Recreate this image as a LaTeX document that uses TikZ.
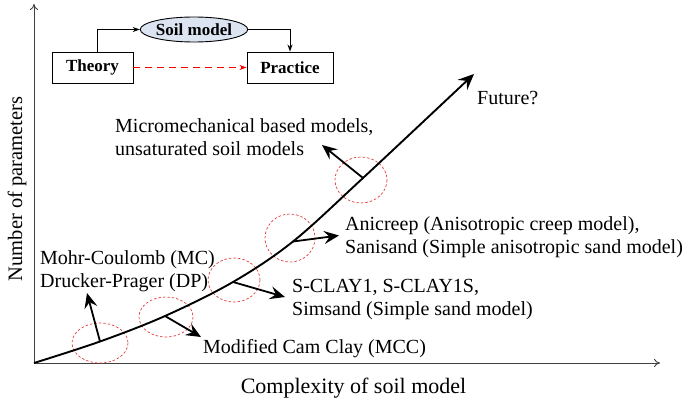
\documentclass[tikz,border=0pt]{standalone}
\usepackage{fontspec}
\setmainfont{Liberation Serif}
\usetikzlibrary{arrows.meta,shapes.geometric}
\definecolor{soilfill}{RGB}{220,228,242}
\definecolor{ringred}{RGB}{228,60,60}
\begin{document}
\begin{tikzpicture}[x=1pt,y=-1pt,
  lbl/.style={anchor=base west,inner sep=0pt,font=\fontsize{20}{23.5}\selectfont},
  boxlbl/.style={draw,line width=0.9pt,font=\bfseries\fontsize{17}{20}\selectfont,inner sep=0pt},
  ring/.style={draw=ringred,line width=0.7pt,dash pattern=on 2.5pt off 2pt},
  bigarr/.style={line width=1.9pt,-{Stealth[length=16pt,width=14pt,inset=6pt]}},
  ptr/.style={line width=1.8pt,-{Stealth[length=15pt,width=13pt,inset=5.5pt]}},
  axis/.style={line width=0.9pt,draw=black!75,-{To[length=6pt,width=8pt]}},
  thin/.style={line width=0.9pt,-{Stealth[length=7pt,width=5pt]}}]
\useasboundingbox (0,0) rectangle (685,401);
% axes
\coordinate (O) at (34,363);
\coordinate (Ytop) at (34,4);
\coordinate (Xend) at (660,363);
\draw[axis] (O) -- (Ytop);
\draw[axis] (O) -- (Xend);
\node[inner sep=0pt,rotate=90,anchor=base,font=\fontsize{20.5}{24}\selectfont] (ylab) at (22,189) {Number of parameters};
\node[inner sep=0pt,anchor=base,font=\fontsize{22}{24}\selectfont] (xlab) at (353.5,393) {Complexity of soil model};
% curve points
\coordinate (p1) at (100,341.5);
\coordinate (p2) at (165,316);
\coordinate (p3) at (233,282);
\coordinate (p4) at (293,241.5);
\coordinate (p5) at (363,178);
\coordinate (pend) at (474,74);
% rings
\draw[ring] (100,343) ellipse [x radius=28,y radius=20];
\draw[ring] (166,317) ellipse [x radius=27,y radius=20];
\draw[ring] (234,280) ellipse [x radius=26,y radius=22];
\draw[ring] (290,238) ellipse [x radius=25,y radius=24];
\draw[ring] (361,180) ellipse [x radius=26,y radius=23];
% main curve
\draw[bigarr] plot[smooth,tension=0.55] coordinates {(O) (p1) (p2) (p3) (p4) (p5) (pend)};
% pointer arrows
\coordinate (a1) at (87,293);
\coordinate (a2) at (201,337);
\coordinate (a3) at (285,297);
\coordinate (a4) at (339,235.5);
\coordinate (a5) at (322,145);
\draw[ptr] (p1) -- (a1);
\draw[ptr] (p2) -- (a2);
\draw[ptr] (p3) -- (a3);
\draw[ptr] (p4) -- (a4);
\draw[ptr] (p5) -- (a5);
% labels
\node[lbl] (t1) at (40,264) {\begin{tabular}[t]{@{}l@{}}Mohr-Coulomb (MC)\\Drucker-Prager (DP)\end{tabular}};
\node[lbl] (t2) at (203,353) {Modified Cam Clay (MCC)};
\node[lbl] (t3) at (292,292) {\begin{tabular}[t]{@{}l@{}}S-CLAY1, S-CLAY1S,\\Simsand (Simple sand model)\end{tabular}};
\node[lbl] (t4) at (345,230) {\begin{tabular}[t]{@{}l@{}}Anicreep (Anisotropic creep model),\\Sanisand (Simple anisotropic sand model)\end{tabular}};
\node[lbl] (t5) at (115,132) {\begin{tabular}[t]{@{}l@{}}Micromechanical based models,\\unsaturated soil models\end{tabular}};
\node[lbl] (t6) at (477,105) {Future?};
% top scheme
\node[boxlbl,minimum width=81pt,minimum height=31pt] (theory) at (92.5,67.5) {Theory};
\node[boxlbl,minimum width=86pt,minimum height=31pt] (practice) at (290,67.5) {Practice};
\node[boxlbl,ellipse,fill=soilfill,minimum width=98pt,minimum height=25pt] (soil) at (194,29.5) {Soil model};
\draw[thin] (theory.north -| 97,0) |- (soil.west);
\draw[thin] (soil.east) -| (practice.north);
\draw[thin,red,line width=1.1pt,dash pattern=on 7pt off 5pt] (theory.east) -- (practice.west);
\end{tikzpicture}
\end{document}
